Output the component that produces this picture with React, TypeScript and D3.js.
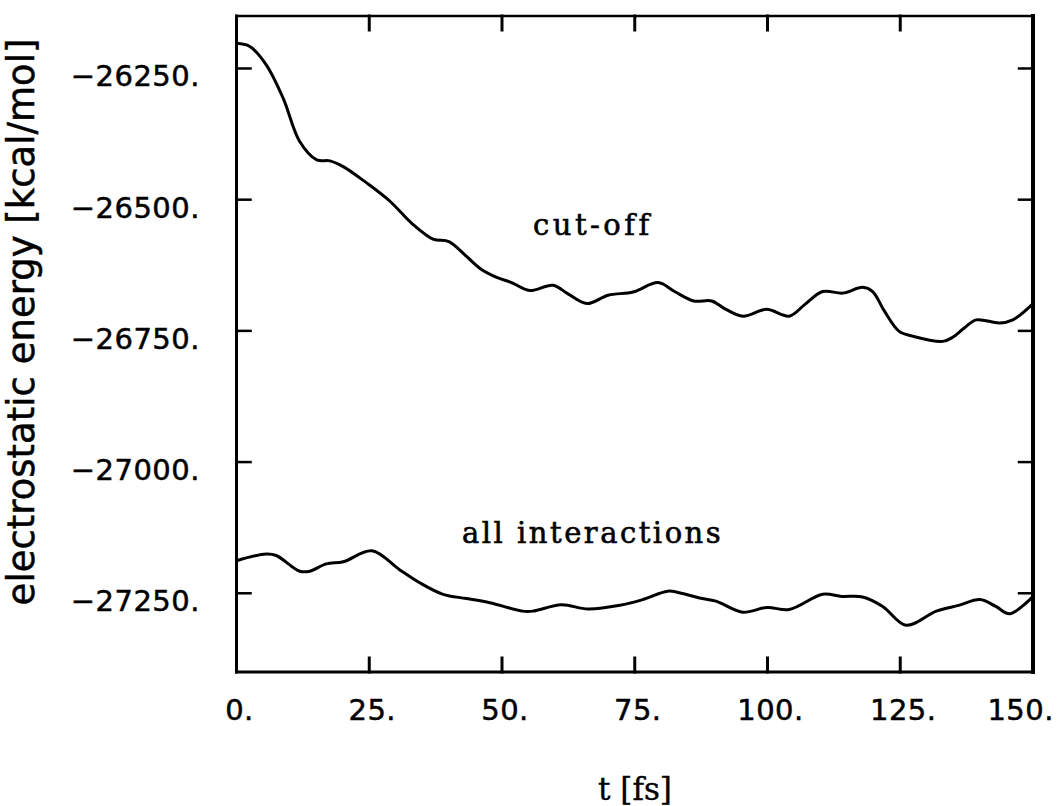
import React from "react";
import * as d3 from "d3";

const cutoffT = [0, 2.5, 5.6, 8.8, 11.9, 15.1, 17.6, 20.1, 24.5, 28.9, 33, 37, 40, 43, 46, 49, 51.8, 55.2, 59.6, 62.5, 66, 70, 74.7, 79.4, 82.5, 86.1, 89.5, 92, 95.4, 99.8, 104.1, 107, 110.4, 114.2, 117.9, 119.8, 122, 124.8, 127.3, 133, 134.9, 137, 139.3, 143.7, 146.2, 150];
const cutoffE = [-26202, -26208, -26243, -26307, -26389, -26424, -26426, -26437, -26468, -26503, -26545, -26575, -26580, -26605, -26632, -26648, -26658, -26673, -26663, -26680, -26698, -26682, -26676, -26658, -26675, -26693, -26693, -26708, -26722, -26709, -26722, -26700, -26675, -26678, -26667, -26675, -26712, -26751, -26760, -26770, -26762, -26745, -26729, -26735, -26729, -26698];

const allT = [0, 5.6, 7.5, 11.9, 13.8, 16.9, 20.1, 25.5, 30.7, 34.5, 38.9, 43.3, 47.7, 53.9, 55.8, 61.2, 66.2, 72.2, 76.5, 81.2, 83.4, 87.2, 90.3, 95.3, 99.9, 104.1, 110.4, 114, 117.9, 121.7, 126.1, 131.8, 136, 140, 143, 145.6, 150];
const allE = [-27188, -27175, -27178, -27208, -27208, -27194, -27190, -27169, -27205, -27230, -27252, -27260, -27268, -27284, -27284, -27272, -27280, -27273, -27262, -27246, -27249, -27259, -27265, -27286, -27277, -27281, -27252, -27256, -27257, -27275, -27311, -27284, -27273, -27262, -27275, -27289, -27256];

const xTicks = [0, 25, 50, 75, 100, 125, 150];
const xTickLabels = ["0.", "25.", "50.", "75.", "100.", "125.", "150."];
const yTicks = [-26250, -26500, -26750, -27000, -27250];
const yTickLabels = ["\u221226250.", "\u221226500.", "\u221226750.", "\u221227000.", "\u221227250."];

const xTitle = "t [fs]";
const yTitle = "electrostatic energy [kcal/mol]";
const label1 = "cut-off";
const label2 = "all interactions";

export default function App() {
  const L = 236.5, R = 1033, T = 16, B = 672;
  const x = d3.scaleLinear().domain([0, 150]).range([L, R]);
  const y = d3.scaleLinear().domain([-27400, -26150]).range([B, T]);
  const line = d3
    .line<[number, number]>()
    .x((d) => x(d[0]))
    .y((d) => y(d[1]))
    .curve(d3.curveCatmullRom.alpha(0.5));
  const cut = line(cutoffT.map((t, i) => [t, cutoffE[i]] as [number, number])) || "";
  const all = line(allT.map((t, i) => [t, allE[i]] as [number, number])) || "";
  const tickLen = 14;
  const tickFont = 29;
  return (
    <svg
      width={1058}
      height={806}
      style={{ position: "absolute", left: 0, top: 0, background: "#fff" }}
    >
      <rect x={0} y={0} width={1058} height={806} fill="#fff" />
      <g stroke="#000" fill="none" strokeLinecap="square">
        <line x1={L} y1={T} x2={R} y2={T} strokeWidth={2.5} />
        <line x1={L} y1={B} x2={R} y2={B} strokeWidth={3} />
        <line x1={L} y1={T} x2={L} y2={B} strokeWidth={3} />
        <line x1={R} y1={T} x2={R} y2={B} strokeWidth={4} />
        {xTicks.slice(1, -1).map((t) => (
          <g key={"xt" + t}>
            <line x1={x(t)} x2={x(t)} y1={B} y2={B - tickLen} strokeWidth={3} />
            <line x1={x(t)} x2={x(t)} y1={T} y2={T + tickLen} strokeWidth={3} />
          </g>
        ))}
        {yTicks.map((v) => (
          <g key={"yt" + v}>
            <line x1={L} x2={L + tickLen} y1={y(v)} y2={y(v)} strokeWidth={2.5} />
            <line x1={R} x2={R - tickLen} y1={y(v)} y2={y(v)} strokeWidth={2.5} />
          </g>
        ))}
        <path d={cut} strokeWidth={3} strokeLinejoin="round" strokeLinecap="round" />
        <path d={all} strokeWidth={3} strokeLinejoin="round" strokeLinecap="round" />
      </g>
      <g fontFamily="DejaVu Sans" fontSize={tickFont} fill="#000" stroke="#000" strokeWidth={0.5}>
        {yTicks.map((v, i) => (
          <text key={"yl" + v} x={200} y={y(v) + 18} textAnchor="end" letterSpacing={0.5}>
            {yTickLabels[i]}
          </text>
        ))}
        {xTicks.map((t, i) => {
          const last = i === xTicks.length - 1;
          return (
            <text
              key={"xl" + t}
              x={last ? 1054 : x(t) + 3}
              y={720}
              textAnchor={last ? "end" : "middle"}
              letterSpacing={0.5}
            >
              {xTickLabels[i]}
            </text>
          );
        })}
      </g>
      <text
        transform={`translate(34, 322) rotate(-90)`}
        textAnchor="middle"
        fontFamily="DejaVu Sans"
        fontSize={37}
        fill="#000"
        stroke="#000"
        strokeWidth={0.5}
      >
        {yTitle}
      </text>
      <text x={635} y={800} textAnchor="middle" fontFamily="DejaVu Serif" fontSize={31} fill="#000" stroke="#000" strokeWidth={0.4}>
        {xTitle}
      </text>
      <text x={533} y={235} fontFamily="DejaVu Serif" fontSize={29} letterSpacing={3.5} fill="#000" stroke="#000" strokeWidth={0.6}>
        {label1}
      </text>
      <text x={462} y={543} fontFamily="DejaVu Serif" fontSize={29} letterSpacing={2.5} fill="#000" stroke="#000" strokeWidth={0.6}>
        {label2}
      </text>
    </svg>
  );
}
